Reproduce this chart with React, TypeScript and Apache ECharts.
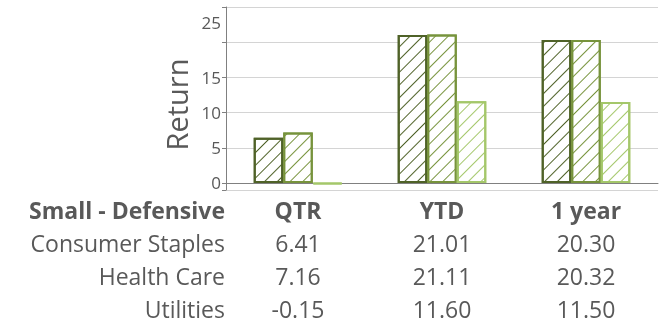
import React, { useEffect, useRef } from "react";
import * as echarts from "echarts";

// Return periods shown along the x axis (and as table column headers)
const periods = ["QTR", "YTD", "1 year"];

// Sector returns per period
const consumerStaples = [6.41, 21.01, 20.3];
const healthCare = [7.16, 21.11, 20.32];
const utilities = [-0.15, 11.6, 11.5];

const sectorNames = ["Consumer Staples", "Health Care", "Utilities"];
const tableTitle = "Small - Defensive";

// Y-axis tick values that get a label
const yTickLabels = [0, 5, 10, 15, 25];

const colors = ["#4f6228", "#77933c", "#a4c76a"];
const textColor = "#595959";
const fontFamily = "'Open Sans', 'Noto Sans', sans-serif";

const seriesValues = [consumerStaples, healthCare, utilities];

// Thin "/" diagonal hatch drawn in the series colour
function hatch(color: string) {
  return {
    symbol: "rect",
    symbolSize: 1,
    color,
    dashArrayX: [1, 0],
    dashArrayY: [1, 7.5],
    rotation: -Math.PI / 4,
  };
}

const ROW_H = 33;
const TABLE_FONT = 23;

export default function App() {
  const ref = useRef<HTMLDivElement>(null);

  useEffect(() => {
    if (!ref.current) return;
    const chart = echarts.init(ref.current, undefined, { renderer: "svg" });

    const richStyles = {
      h: {
        fontFamily,
        fontSize: TABLE_FONT,
        fontWeight: "bold" as const,
        lineHeight: ROW_H,
        color: textColor,
      },
      v: {
        fontFamily,
        fontSize: TABLE_FONT,
        lineHeight: ROW_H,
        color: textColor,
      },
    };

    // Row headers of the table, right-aligned against the plot's left edge
    const rowTexts = [tableTitle, ...sectorNames].map((t, i) => ({
      type: "text",
      x: 225,
      y: 193 + i * ROW_H + ROW_H / 2,
      style: {
        text: t,
        align: "right",
        verticalAlign: "middle",
        fontFamily,
        fontSize: TABLE_FONT,
        fontWeight: i === 0 ? "bold" : "normal",
        fill: textColor,
      },
    }));

    chart.setOption({
      animation: false,
      grid: { left: 226, right: 8, top: 7, bottom: 135, containLabel: false },
      xAxis: {
        type: "category",
        data: periods,
        axisLine: { show: true, lineStyle: { color: "#808080", width: 1 } },
        axisTick: { show: false },
        axisLabel: {
          margin: 3,
          interval: 0,
          formatter: (value: string, idx: number) =>
            [`{h|${value}}`]
              .concat(seriesValues.map((s) => `{v|${s[idx].toFixed(2)}}`))
              .join("\n"),
          rich: richStyles,
        },
      },
      yAxis: {
        type: "value",
        min: -1,
        max: 25,
        splitNumber: 5,
        name: "Return",
        nameLocation: "middle",
        nameGap: 30,
        nameTextStyle: {
          fontFamily,
          fontSize: 29,
          color: textColor,
          padding: [0, 12, 0, 0],
        },
        axisLine: { show: true, lineStyle: { color: "#808080", width: 1 } },
        axisTick: { show: true, length: 4, lineStyle: { color: "#808080" } },
        splitLine: { show: true, lineStyle: { color: "#d4d4d4", width: 1 } },
        axisLabel: {
          margin: 5,
          color: textColor,
          fontFamily,
          fontSize: 17,
          formatter: (v: number) => {
            if (!yTickLabels.includes(v)) return "";
            if (v === 25) return `{top|${v}}`;
            return `${v}`;
          },
          rich: {
            top: {
              fontFamily,
              fontSize: 17,
              color: textColor,
              padding: [30, 0, 0, 0],
            },
          },
        },
      },
      graphic: rowTexts,
      series: seriesValues.map((data, i) => ({
        type: "bar",
        name: sectorNames[i],
        data,
        barWidth: "20.5%",
        barGap: "0%",
        itemStyle: {
          color: "#ffffff",
          borderColor: colors[i],
          borderWidth: 2,
          decal: hatch(colors[i]),
        },
      })),
    });

    return () => chart.dispose();
  }, []);

  return (
    <div
      ref={ref}
      style={{ position: "fixed", left: 0, top: 0, width: 666, height: 325 }}
    />
  );
}
